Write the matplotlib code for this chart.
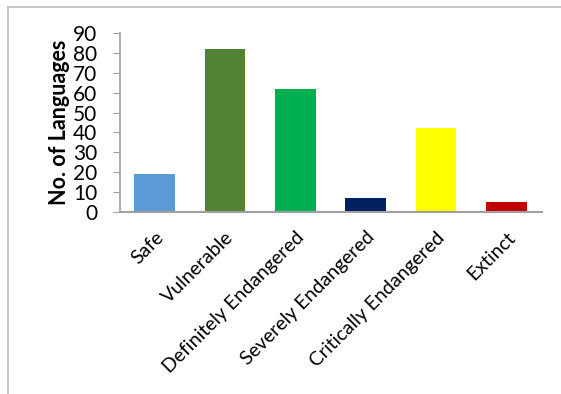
import matplotlib.pyplot as plt
from matplotlib.lines import Line2D
import numpy as np

categories = ['Safe', 'Vulnerable', 'Definitely Endangered', 'Severely Endangered',
              'Critically Endangered', 'Extinct']
counts = [19, 82, 62, 7, 42, 5]
bar_colors = ['#5B9BD5', '#548235', '#00B050', '#002060', '#FFFF00', '#C00000']

plt.rcParams['font.family'] = ['Lato', 'DejaVu Sans']

fig = plt.figure(figsize=(5.61, 3.94), dpi=100)
W, H = 561, 394
ax = fig.add_axes([119.5 / W, 1 - 212 / H, (541.5 - 119.5) / W, (212 - 33) / H])

x = np.arange(len(categories))
ax.bar(x, counts, width=0.58, color=bar_colors)
ax.set_xlim(-0.5, len(categories) - 0.5)
ax.set_ylim(0, 90)
ax.set_yticks(np.arange(0, 91, 10))
ax.set_xticks(x)
ax.set_xticklabels(categories, rotation=45, ha='right', rotation_mode='anchor', fontsize=14)
ax.tick_params(axis='x', length=0, pad=12)
ax.tick_params(axis='y', length=5, color='#a0a0a0', labelsize=15, pad=11)
for s in ['top', 'right']:
    ax.spines[s].set_visible(False)
ax.spines['left'].set_color('#a0a0a0')
ax.spines['bottom'].set_color('#a0a0a0')
ax.spines['left'].set_linewidth(1.2)
ax.spines['bottom'].set_linewidth(1.5)
ax.set_ylabel('No. of Languages', fontsize=15.5, fontweight='bold', labelpad=2)

# outer chart border (top and left)
fig.add_artist(Line2D([7.5 / W, 1], [1 - 6.5 / H, 1 - 6.5 / H], color='#bbbbbb', lw=1.2))
fig.add_artist(Line2D([7.5 / W, 7.5 / W], [0, 1 - 6.5 / H], color='#bbbbbb', lw=1.2))

fig.savefig('out.png', dpi=100)
